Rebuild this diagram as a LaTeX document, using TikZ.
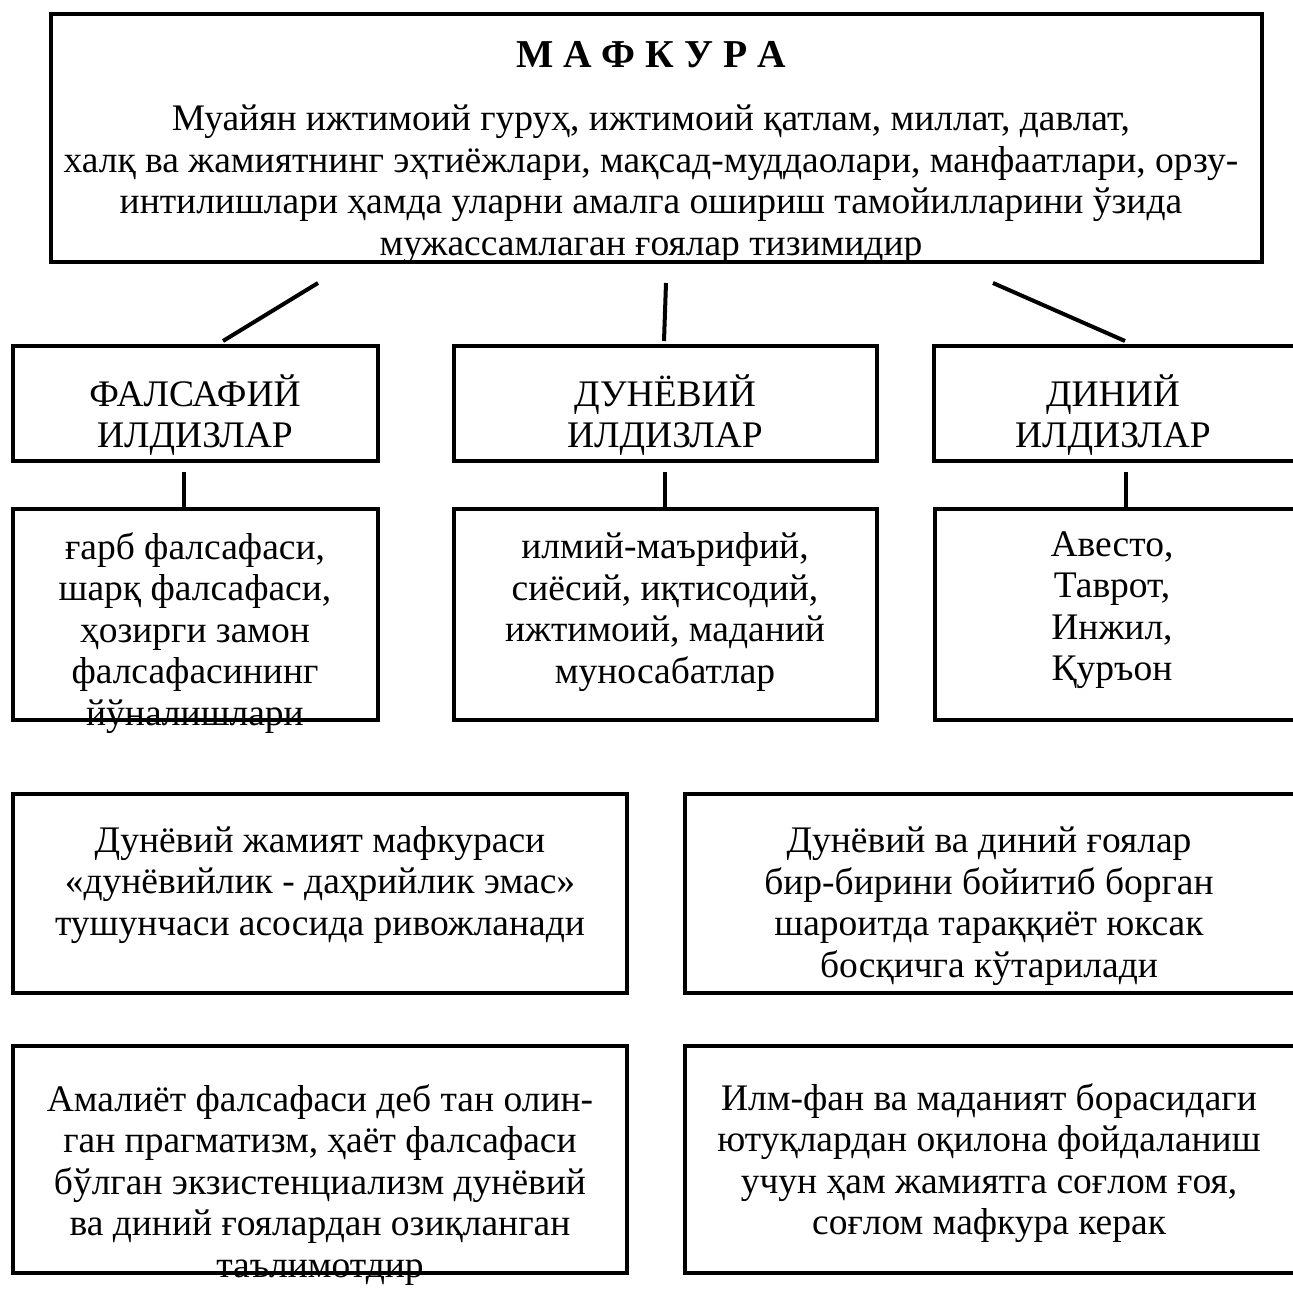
\documentclass[tikz,border=0pt]{standalone}
\usepackage{fontspec}
\setmainfont{Liberation Serif}
\begin{document}
\begin{tikzpicture}[x=1pt,y=-1pt]
\tikzset{
  box/.style={draw, line width=3.8pt, inner sep=0pt},
  txt/.style={inner sep=0pt, align=center, font=\fontsize{37.5}{41.5}\selectfont},
  conn/.style={line width=4pt},
}
\useasboundingbox[fill=white] (0,0) rectangle (1293,1289);
% boxes
\node[box, minimum width=1211pt, minimum height=248pt] (top) at (656.5,138) {};
\node[box, minimum width=365pt, minimum height=115pt] (f1) at (195.5,403.5) {};
\node[box, minimum width=423pt, minimum height=115pt] (d1) at (665.5,403.5) {};
\node[box, minimum width=361pt, minimum height=115pt] (r1) at (1114.5,403.5) {};
\node[box, minimum width=365pt, minimum height=211pt] (f2) at (195.5,614.5) {};
\node[box, minimum width=423pt, minimum height=211pt] (d2) at (665.5,614.5) {};
\node[box, minimum width=360pt, minimum height=211pt] (r2) at (1115,614.5) {};
\node[box, minimum width=614pt, minimum height=199pt] (a4) at (320,893.5) {};
\node[box, minimum width=610pt, minimum height=199pt] (b4) at (990,893.5) {};
\node[box, minimum width=614pt, minimum height=227pt] (a5) at (320,1159.5) {};
\node[box, minimum width=610pt, minimum height=227pt] (b5) at (990,1159.5) {};
% texts
\node[txt, font=\fontsize{39.5}{41.5}\selectfont\bfseries] (t0) at (651,55) {М А Ф К У Р А};
\node[txt] (t1) at (651,184) {Муайян ижтимоий гуруҳ, ижтимоий қатлам, миллат, давлат,\\
халқ ва жамиятнинг эҳтиёжлари, мақсад-муддаолари, манфаатлари, орзу-\\
интилишлари ҳамда уларни амалга ошириш тамойилларини ўзида\\
мужассамлаган ғоялар тизимидир};
\node[txt] (tf1) at (195,415) {ФАЛСАФИЙ\\ИЛДИЗЛАР};
\node[txt] (td1) at (665,415) {ДУНЁВИЙ\\ИЛДИЗЛАР};
\node[txt] (tr1) at (1113,415) {ДИНИЙ\\ИЛДИЗЛАР};
\node[txt] (tf2) at (195,633) {ғарб фалсафаси,\\шарқ фалсафаси,\\ҳозирги замон\\фалсафасининг\\йўналишлари};
\node[txt] (td2) at (665,612) {илмий-маърифий,\\сиёсий, иқтисодий,\\ижтимоий, маданий\\муносабатлар};
\node[txt] (tr2) at (1112,610) {Авесто,\\Таврот,\\Инжил,\\Қуръон};
\node[txt] (ta4) at (320,885) {Дунёвий жамият мафкураси\\«дунёвийлик - даҳрийлик эмас»\\тушунчаси асосида ривожланади};
\node[txt] (tb4) at (989,906) {Дунёвий ва диний ғоялар\\бир-бирини бойитиб борган\\шароитда тараққиёт юксак\\босқичга кўтарилади};
\node[txt] (ta5) at (320,1185) {Амалиёт фалсафаси деб тан олин-\\ган прагматизм, ҳаёт фалсафаси\\бўлган экзистенциализм дунёвий\\ва диний ғоялардан озиқланган\\таълимотдир};
\node[txt] (tb5) at (989,1163) {Илм-фан ва маданият борасидаги\\ютуқлардан оқилона фойдаланиш\\учун ҳам жамиятга соғлом ғоя,\\соғлом мафкура керак};
% connectors
\coordinate (c1s) at (318,283); \coordinate (c1e) at (223,341);
\coordinate (c2s) at (666,283); \coordinate (c2e) at (664,341);
\coordinate (c3s) at (993,283); \coordinate (c3e) at (1125,341);
\draw[conn] (c1s) -- (c1e);
\draw[conn] (c2s) -- (c2e);
\draw[conn] (c3s) -- (c3e);
\coordinate (v1) at (184,472);
\coordinate (v2) at (665,472);
\coordinate (v3) at (1126,472);
\draw[conn] (v1) -- (v1 |- f2.north);
\draw[conn] (v2) -- (v2 |- d2.north);
\draw[conn] (v3) -- (v3 |- r2.north);
\end{tikzpicture}
\end{document}
